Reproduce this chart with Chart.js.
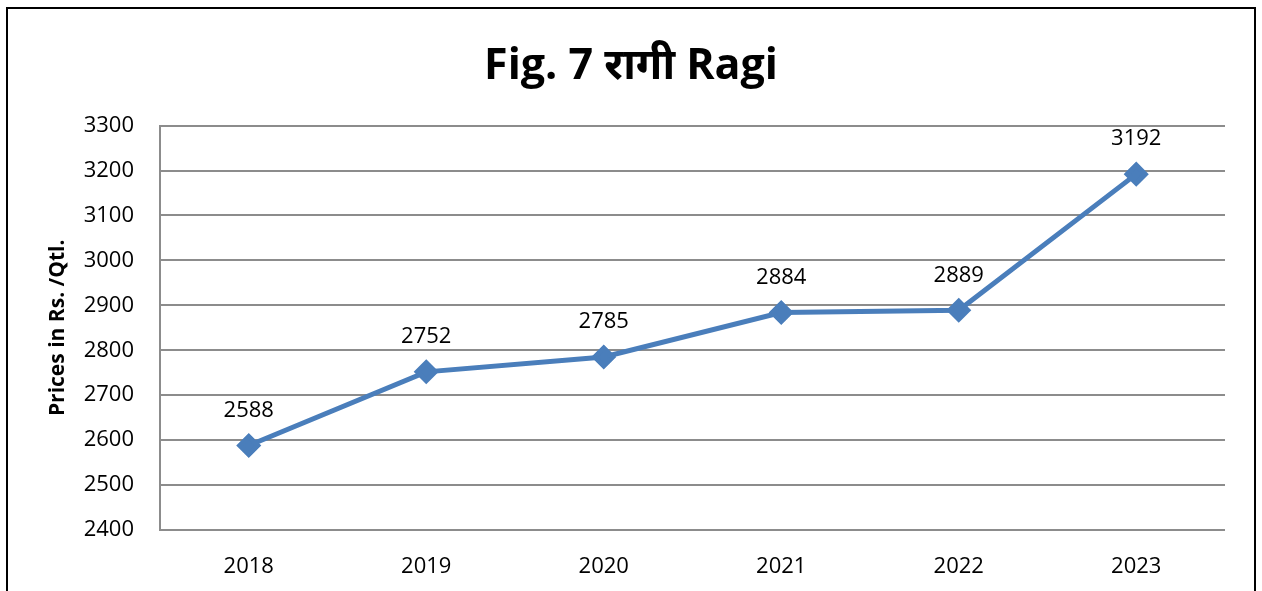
<!DOCTYPE html>
<html>
<head>
<meta charset="utf-8">
<script src="https://cdn.jsdelivr.net/npm/chart.js@4"></script>
<style>
  html, body { margin: 0; padding: 0; background: #fff; }
  #wrap { position: relative; width: 1262px; height: 591px; overflow: hidden; }
  #frame { position: absolute; left: 6px; top: 7px; width: 1250px; height: 600px; border: 2px solid #000; box-sizing: border-box; }
  canvas { position: absolute; left: 0; top: 0; }
</style>
</head>
<body>
<div id="wrap">
  <div id="frame"></div>
  <canvas id="ragi" width="1262" height="591"></canvas>
</div>
<script>
// dados do gráfico
const anos = ['2018', '2019', '2020', '2021', '2022', '2023']
const precos = [2588, 2752, 2785, 2884, 2889, 3192]
const titulo = 'Fig. 7 रागी Ragi'
const tituloEixoY = 'Prices in Rs. /Qtl.'
const yMin = 2400
const yMax = 3300
const yPasso = 100

const fonte = "'Open Sans', 'Noto Sans', 'Noto Sans Devanagari', sans-serif"

// rótulos com o valor em cima de cada ponto
const rotulosPontos = {
    id: 'rotulosPontos',
    afterDatasetsDraw(chart) {
        const ctx = chart.ctx
        const meta = chart.getDatasetMeta(0)
        ctx.save()
        ctx.fillStyle = '#000'
        ctx.font = '22px ' + fonte
        ctx.textAlign = 'center'
        ctx.textBaseline = 'middle'
        meta.data.forEach((pt, i) => {
            ctx.fillText(chart.data.datasets[0].data[i], pt.x, pt.y - 35)
        })
        ctx.restore()
    }
}

const ctx = document.getElementById('ragi').getContext('2d')
const grafico = new Chart(ctx, {
    type: 'line',
    data: {
        labels: anos,
        datasets: [{
            label: 'Ragi',
            data: precos,
            borderColor: '#4A7EBB',
            backgroundColor: '#4A7EBB',
            borderWidth: 5,
            pointStyle: 'rectRot',
            pointRadius: 9,
            pointHoverRadius: 9,
            tension: 0
        }]
    },
    options: {
        responsive: false,
        animation: false,
        layout: { padding: 0 },
        plugins: {
            legend: { display: false },
            tooltip: { enabled: false },
            title: {
                display: true,
                text: titulo,
                color: '#000',
                font: { size: 43, weight: 'bold', family: fonte, lineHeight: 1.2 },
                padding: { top: 41, bottom: 33 }
            }
        },
        scales: {
            x: {
                offset: true,
                grid: { display: false, drawTicks: false },
                border: { display: false },
                ticks: { color: '#000', font: { size: 22, family: fonte }, padding: 24 },
                afterFit(scale) { scale.height = 61 }
            },
            y: {
                min: yMin,
                max: yMax,
                grid: { color: '#8c8c8c', lineWidth: 2, drawTicks: false },
                border: { display: true, color: '#8c8c8c', width: 2 },
                ticks: {
                    stepSize: yPasso,
                    color: '#000',
                    font: { size: 22, family: fonte },
                    padding: 26,
                    callback: v => String(v)
                },
                title: {
                    display: true,
                    text: tituloEixoY,
                    color: '#000',
                    font: { size: 21, weight: 'bold', family: fonte },
                    padding: { top: 45, bottom: 0 }
                },
                afterFit(scale) { scale.width = 160 }
            },
            // eixo vazio só para reservar a margem da direita
            margemDireita: {
                position: 'right',
                grid: { display: false, drawTicks: false },
                border: { display: false },
                ticks: { display: false },
                afterFit(scale) { scale.width = 37 }
            }
        }
    },
    plugins: [rotulosPontos]
})
</script>
</body>
</html>
